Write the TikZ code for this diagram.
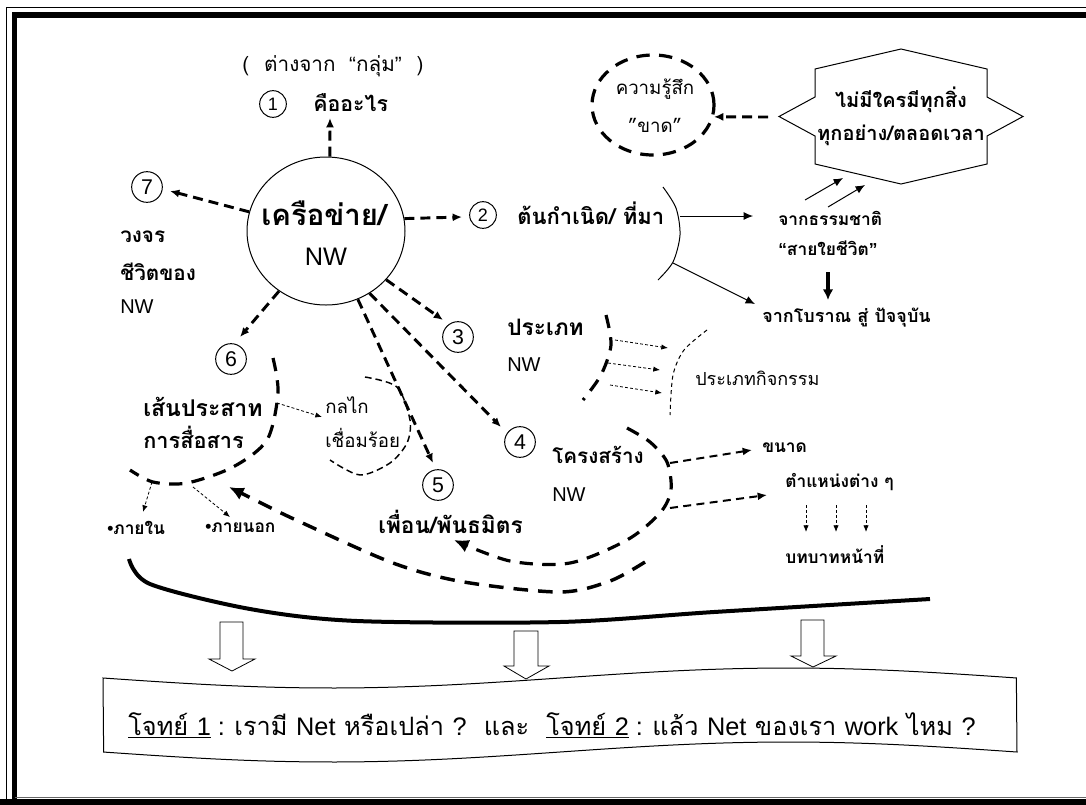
\documentclass[tikz,border=0pt]{standalone}
\usepackage{fontspec}
\newfontfamily\thai[Script=Thai]{Loma}
\newfontfamily\arial{Liberation Sans}
\usetikzlibrary{arrows.meta,shapes.geometric}
\newcommand\fsz[1]{\fontsize{#1pt}{#1pt}\selectfont}
\begin{document}
\begin{tikzpicture}[x=0.75pt,y=-0.75pt,
  big/.style={inner sep=0pt, anchor=west, font=\thai\bfseries\fsz{17}},
  nwl/.style={inner sep=0pt, anchor=west, font=\arial\fsz{15}},
  sm/.style={inner sep=0pt, anchor=west, font=\thai\bfseries\fsz{13}},
  smr/.style={inner sep=0pt, anchor=west, font=\thai\fsz{13}},
  num/.style={circle, draw, line width=0.75pt, inner sep=0pt, minimum size=23pt, font=\arial\fsz{16}},
  nums/.style={num, minimum size=20pt, font=\arial\fsz{13.5}},
  tdash/.style={line width=2.2pt, dash pattern=on 7.5pt off 4.5pt},
  tdarc/.style={line width=2.4pt, dash pattern=on 10pt off 7pt},
  mdash/.style={line width=1.5pt, dash pattern=on 6pt off 4pt},
  tip/.style={-{Latex[length=7pt,width=6pt]}},
  bigtip/.style={-{Latex[length=11pt,width=10pt]}},
  dotl/.style={line width=0.6pt, dash pattern=on 2.2pt off 1.6pt, -{Latex[length=5pt,width=4pt]}},
  thinl/.style={line width=0.75pt, -{Latex[length=7pt,width=6pt]}},
  blk/.style={fill=white, draw, line width=0.6pt}]
\useasboundingbox (0,0) rectangle (1086,804);
% frame
\begin{scope}
\clip (0,0) rectangle (1086,804);
\draw[line width=1.1pt] (6.5,830) -- (6.5,7.5) -- (1100,7.5);
\draw[line width=4.3pt] (14.5,830) -- (14.5,15) -- (1100,15);
\draw[line width=0.8pt, black!60] (14.5,797.5) -- (1100,797.5);
\draw[line width=4.5pt] (0,802) -- (1100,802);
\end{scope}

% central circle
\node[ellipse, draw, line width=0.75pt, minimum width=118.5pt, minimum height=111pt, inner sep=0pt] (nw) at (326,231) {};
\node[inner sep=0pt, font=\thai\bfseries\fsz{22}] (nwt) at (324,213) {เครือข่าย/};
\node[inner sep=0pt, font=\arial\fsz{19}] (nwn) at (326,257) {NW};

% 1
\node[inner sep=0pt, font=\thai\fsz{15.5}] (diff) at (333,66) {(\hspace{6pt} ต่างจาก\hspace{5pt} {\arial “}กลุ่ม{\arial ”}\hspace{6pt} )};
\node[nums] (n1) at (273,104) {1};
\node[big, font=\thai\bfseries\fsz{16}] (what) at (313,103) {คืออะไร};
\coordinate (a1) at (330,118);
\draw[tdash,tip] (nw.87) -- (a1);

% 7
\node[num] (n7) at (147,187) {7};
\coordinate (a7) at (170,191);
\draw[tdash,tip] (nw.166) -- (a7);
\node[big, font=\thai\bfseries\fsz{15.5}] (cyc1) at (120,237) {วงจร};
\node[big, font=\thai\bfseries\fsz{15.5}] (cyc2) at (120,272) {ชีวิตของ};
\node[nwl] (cyc3) at (120,307) {NW};

% 2
\node[nums] (n2) at (483,215) {2};
\coordinate (a2) at (462,217);
\draw[tdash,tip] (nw.9) -- (a2);
\node[big, font=\thai\bfseries\fsz{16.5}] (orig) at (517,213) {ต้นกำเนิด/ ที่มา};
\draw[line width=0.75pt] plot[smooth] coordinates {(663,187) (676,208) (680,235) (673,262) (658,280)};
\coordinate (o1) at (680,216);
\coordinate (o2) at (673,263);
\node[sm] (nat1) at (778,218) {จากธรรมชาติ};
\node[sm] (nat2) at (778,248) {{\arial “}สายใยชีวิต{\arial ”}};
\node[sm, font=\thai\bfseries\fsz{13.5}] (anc) at (762,318) {จากโบราณ สู่ ปัจจุบัน};
\draw[thinl] (o1) -- (753,216);
\draw[thinl] (o2) -- (755,304);
\draw[line width=2.6pt, -{Latex[length=8pt,width=8pt]}] (828,272) -- (828,300);

% star
\draw[line width=0.75pt] (901,49) -- (987,69) -- (987,97) -- (1023,116.5) -- (987,136) -- (987,164) -- (901,184) -- (815,164) -- (815,136) -- (779,116.5) -- (815,97) -- (815,69) -- cycle;
\coordinate (starL) at (768,117);
\node[inner sep=0pt, font=\thai\bfseries\fsz{15}] (st1) at (901,100) {ไม่มีใครมีทุกสิ่ง};
\node[inner sep=0pt, font=\thai\bfseries\fsz{15}] (st2) at (901,135) {ทุกอย่าง/ตลอดเวลา};
\coordinate (s1a) at (805,200); \coordinate (s1b) at (843,178);
\coordinate (s2a) at (828,207); \coordinate (s2b) at (865,185);
\draw[thinl] (s1a) -- (s1b);
\draw[thinl] (s2a) -- (s2b);

% feeling ellipse
\node[ellipse, draw, line width=2.4pt, dash pattern=on 10pt off 7pt, minimum width=91.5pt, minimum height=75pt, inner sep=0pt] (feel) at (653,105) {};
\node[inner sep=0pt, font=\thai\fsz{14}] (feel1) at (655,89) {ความรู้สึก};
\node[inner sep=0pt, font=\thai\fsz{14}] (feel2) at (655,125) {”ขาด”};
\draw[tdash,tip] (starL) -- (feel.-11);

% 3
\node[num] (n3) at (458,337) {3};
\coordinate (a3) at (443,320);
\draw[tdash,tip] (nw.-39) -- (a3);
\node[big] (typ1) at (507,327) {ประเภท};
\node[nwl] (typ2) at (507,365) {NW};
\draw[tdarc] plot[smooth] coordinates {(606,315) (611,345) (601,375) (583,400)};
\draw[dotl] (615,340) -- (668,348);
\draw[dotl] (608,363) -- (660,370);
\draw[dotl] (610,385) -- (662,393);
\draw[line width=0.75pt, dash pattern=on 3pt off 2.5pt] plot[smooth] coordinates {(707,330) (684,350) (673,375) (670,415)};
\node[smr, font=\thai\fsz{13.5}] (act) at (695,378) {ประเภทกิจกรรม};

% 4
\node[num] (n4) at (520,442) {4};
\coordinate (a4) at (501,427);
\draw[tdash,tip] (nw.-55) -- (a4);
\node[big, font=\thai\bfseries\fsz{15.5}] (str1) at (552,455) {โครงสร้าง};
\node[nwl] (str2) at (552,495) {NW};
\node[sm] (size) at (762,448) {ขนาด};
\node[sm] (pos) at (785,482) {ตำแหน่งต่าง ๆ};
\node[sm] (role) at (785,555) {บทบาทหน้าที่};
\draw[mdash,tip] (670,463) -- (752,450);
\draw[mdash,tip] (670,508) -- (767,495);
\draw[dotl] (806,505) -- (806,532);
\draw[dotl] (836,505) -- (836,532);
\draw[dotl] (866,505) -- (866,532);
\draw[tdarc,bigtip] plot[smooth] coordinates {(627,428) (650,442) (667,462) (671,490) (660,513) (627,540) (570,563) (510,561) (454,540)};
\draw[line width=2.6pt, dash pattern=on 11pt off 7.5pt,bigtip] plot[smooth] coordinates {(645,562) (610,581) (560,592) (464,582) (393,563) (296,520) (255,500) (229,487)};

% 5
\node[num] (n5) at (438,485) {5};
\coordinate (a5) at (433,463);
\draw[tdash,tip] (nw.-65) -- (a5);
\node[big] (fr) at (378,522) {เพื่อน/พันธมิตร};
\draw[line width=1.1pt, dash pattern=on 5pt off 3pt] plot[smooth] coordinates {(365,377) (397,387) (410,420) (407,443) (390,463) (360,475) (330,460)};
\node[smr, font=\thai\fsz{14}] (mec1) at (325,405) {กลไก};
\node[smr, font=\thai\fsz{14}] (mec2) at (325,438) {เชื่อมร้อย};

% 6
\node[num] (n6) at (231,359) {6};
\coordinate (a6) at (240,337);
\draw[tdash,tip] (nw.-128) -- (a6);
\node[big, font=\thai\bfseries\fsz{17.3}] (ner1) at (143,407) {เส้นประสาท};
\node[big, font=\thai\bfseries\fsz{16.3}] (ner2) at (143,437) {การสื่อสาร};
\draw[tdarc] plot[smooth] coordinates {(273,358) (278,393) (267,440) (233,467) (187,483) (153,482) (130,470)};
\draw[dotl] (277,403) -- (322,417);
\draw[dotl] (152,482) -- (143,512);
\draw[dotl] (193,487) -- (230,517);
\node[sm] (in) at (107,528) {{\arial •}ภายใน};
\node[sm] (out) at (205,528) {{\arial •}ภายนอก};

% bottom curve
\draw[line width=3pt] plot[smooth] coordinates {(129,559) (150,584) (250,609) (357,621) (560,622) (714,612) (930,599)};

% block arrows
\draw[blk] (220,622) -- (243,622) -- (243,659) -- (255,659) -- (232,671) -- (209,659) -- (220,659) -- cycle;
\draw[blk] (514,631) -- (538,631) -- (538,666) -- (549,666) -- (526,679) -- (504,666) -- (514,666) -- cycle;
\draw[blk] (801,620) -- (824,620) -- (824,656) -- (836,656) -- (813,667) -- (791,656) -- (801,656) -- cycle;

% banner
\draw[line width=0.75pt] plot[domain=0:1, samples=60] ({103+914*\x},{678+10*sin(360*\x)}) -- plot[domain=1:0, samples=60] ({103+914*\x},{752+10*sin(360*\x)}) -- cycle;
\node[inner sep=0pt, font=\thai\fsz{19}] (q) at (552,725) {\underline{โจทย์ {\arial 1}}{\arial\ : }เรามี {\arial Net} หรือเปล่า {\arial ?}\ \ และ\ \ \underline{โจทย์ {\arial 2}}{\arial\ : }แล้ว {\arial Net} ของเรา {\arial work} ไหม {\arial ?}};
\end{tikzpicture}
\end{document}
